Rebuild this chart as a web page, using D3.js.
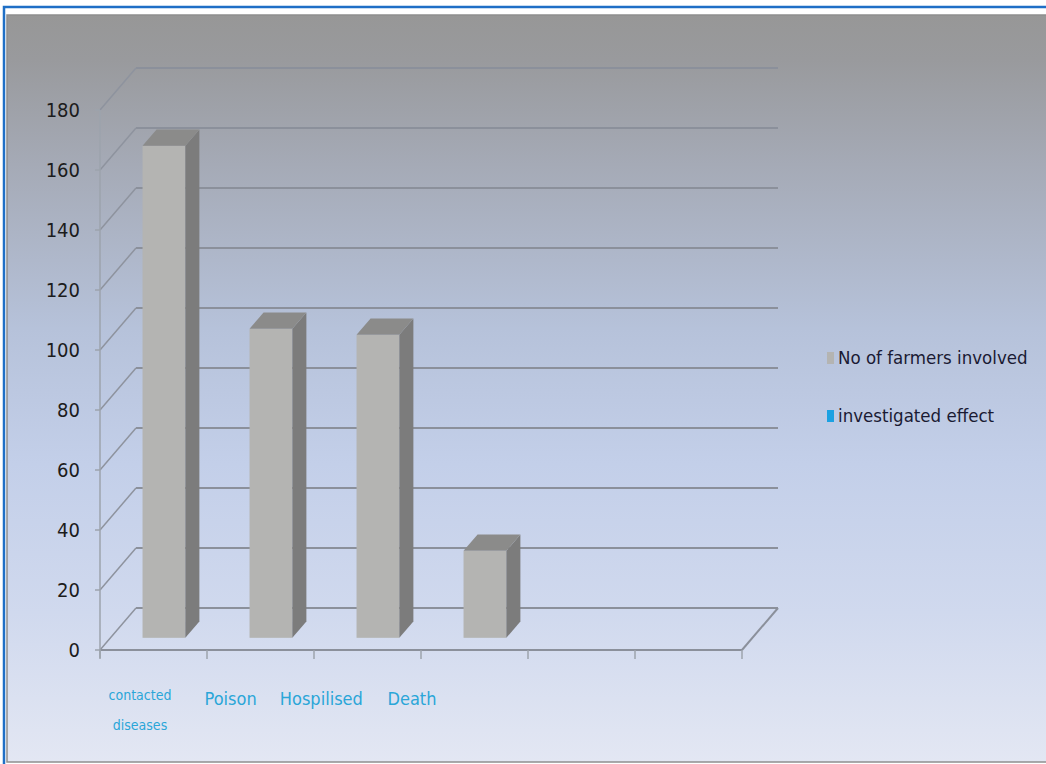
<!DOCTYPE html>
<html>
<head>
<meta charset="utf-8">
<script src="https://cdn.jsdelivr.net/npm/d3@7"></script>
<style>
body { margin: 0; background: #fff; }
text { font-family: "DejaVu Sans Condensed", "Open Sans", sans-serif; }
</style>
</head>
<body>
<div id="chart"></div>
<script>
// data
const categories = ['contacted diseases', 'Poison', 'Hospilised', 'Death', '', ''];
const farmers = [164, 103, 101, 29];
const yTicks = [0, 20, 40, 60, 80, 100, 120, 140, 160, 180];
const legendNames = ['No of farmers involved', 'investigated effect'];
const legendColors = ['#b4b4b2', '#1ba1e2'];

const width = 1046, height = 764;
const depth = {dx: 36, dy: -42};      // 3d wall depth
const barFront = 0.29, barBack = 0.68; // where bars sit along the depth

const svg = d3.select('#chart').append('svg')
  .attr('width', width).attr('height', height);

const defs = svg.append('defs');
const grad = defs.append('linearGradient').attr('id', 'bg')
  .attr('x1', 0).attr('y1', 0).attr('x2', 0).attr('y2', 1);
[[0, '#979797'], [0.06, '#999a9d'], [0.2, '#a5aab6'], [0.42, '#b6c2da'],
 [0.6, '#c3cfe9'], [0.8, '#d0d9ee'], [1, '#e3e7f3']]
  .forEach(s => grad.append('stop').attr('offset', s[0]).attr('stop-color', s[1]));

// blue frame + chart area
svg.append('rect').attr('x', 4).attr('y', 7).attr('width', width + 10).attr('height', height + 10)
  .attr('fill', '#fff').attr('stroke', '#1f6fc6').attr('stroke-width', 2.5);
svg.append('rect').attr('x', 7).attr('y', 15).attr('width', width).attr('height', 747)
  .attr('fill', 'url(#bg)').attr('stroke', '#8f8f8f').attr('stroke-width', 1.5);

const x = d3.scaleBand()
  .domain(d3.range(categories.length))
  .range([100, 742])
  .paddingInner(0.6).paddingOuter(0.3);

const y = d3.scaleLinear().domain([0, 180]).range([650, 110]);

const x0 = x.range()[0], x1 = x.range()[1];
const step = x.step();

// back wall grid lines
svg.append('g').selectAll('line').data(yTicks).join('line')
  .attr('x1', x0 + depth.dx).attr('x2', x1 + depth.dx)
  .attr('y1', d => y(d) + depth.dy).attr('y2', d => y(d) + depth.dy)
  .attr('stroke', '#8b909b').attr('stroke-width', 2);

// left wall diagonals
svg.append('g').selectAll('line').data(yTicks).join('line')
  .attr('x1', x0).attr('x2', x0 + depth.dx)
  .attr('y1', d => y(d)).attr('y2', d => y(d) + depth.dy)
  .attr('stroke', '#8e939e').attr('stroke-width', 1.5);

// floor: front edge and right edge
svg.append('line').attr('x1', x0).attr('x2', x1).attr('y1', y(0)).attr('y2', y(0))
  .attr('stroke', '#8b909b').attr('stroke-width', 2);
svg.append('line').attr('x1', x1).attr('x2', x1 + depth.dx)
  .attr('y1', y(0)).attr('y2', y(0) + depth.dy)
  .attr('stroke', '#8b909b').attr('stroke-width', 2);

// y axis line, ticks, labels
svg.append('line').attr('x1', x0).attr('x2', x0).attr('y1', y(180)).attr('y2', y(0) + 8)
  .attr('stroke', '#9da3ad').attr('stroke-width', 1.5);
svg.append('g').selectAll('line').data(yTicks).join('line')
  .attr('x1', x0 - 5).attr('x2', x0).attr('y1', d => y(d)).attr('y2', d => y(d))
  .attr('stroke', '#9da3ad').attr('stroke-width', 1.5);
svg.append('g').selectAll('text').data(yTicks).join('text')
  .attr('x', 80).attr('y', d => y(d)).attr('dy', '0.35em')
  .attr('text-anchor', 'end').attr('fill', '#1c1c1c').style('font-size', '20px')
  .text(d => d);

// x ticks at category boundaries
svg.append('g').selectAll('line').data(d3.range(categories.length + 1)).join('line')
  .attr('x1', i => x0 + i * step).attr('x2', i => x0 + i * step)
  .attr('y1', y(0)).attr('y2', y(0) + 9)
  .attr('stroke', '#9da3ad').attr('stroke-width', 1.5);

// 3d bars
const fdx = depth.dx * barFront, fdy = depth.dy * barFront;
const sdx = depth.dx * (barBack - barFront), sdy = depth.dy * (barBack - barFront);
const bars = svg.append('g').selectAll('g').data(farmers).join('g');
bars.append('rect')
  .attr('x', (d, i) => x(i) + fdx).attr('y', d => y(d) + fdy)
  .attr('width', x.bandwidth()).attr('height', d => y(0) - y(d))
  .attr('fill', '#b4b4b2');
bars.append('path')
  .attr('d', (d, i) => {
    const l = x(i) + fdx, r = l + x.bandwidth(), t = y(d) + fdy, b = y(0) + fdy;
    return `M${r},${t}L${r + sdx},${t + sdy}L${r + sdx},${b + sdy}L${r},${b}Z`;
  })
  .attr('fill', '#7c7c7c');
bars.append('path')
  .attr('d', (d, i) => {
    const l = x(i) + fdx, r = l + x.bandwidth(), t = y(d) + fdy;
    return `M${l},${t}L${l + sdx},${t + sdy}L${r + sdx},${t + sdy}L${r},${t}Z`;
  })
  .attr('fill', '#8b8b8a');

// category labels (sit left of their bars in the original)
const labels = categories.filter(c => c);
const labelX = d3.scalePoint().domain(labels).range([140, 412]);
svg.append('g').selectAll('text').data(labels).join('text')
  .attr('x', d => labelX(d)).attr('y', 705)
  .attr('text-anchor', 'middle').attr('fill', '#2aa6d8')
  .style('font-size', (d, i) => i === 0 ? '14px' : '18px')
  .each(function (d, i) {
    const t = d3.select(this);
    if (i === 0) {
      t.attr('y', 700);
      d.split(' ').forEach((w, k) => t.append('tspan')
        .attr('x', labelX(d)).attr('dy', k ? 30 : 0).text(w));
    } else {
      t.text(d);
    }
  });

// legend
const legend = svg.append('g').selectAll('g').data(legendNames).join('g')
  .attr('transform', (d, i) => `translate(827, ${358 + i * 58})`);
legend.append('rect').attr('x', 0).attr('y', -6).attr('width', 7).attr('height', 12)
  .attr('fill', (d, i) => legendColors[i]);
legend.append('text').attr('x', 11).attr('dy', '0.35em')
  .attr('fill', '#1a1a33').style('font-size', '18.5px')
  .text(d => d);
</script>
</body>
</html>
